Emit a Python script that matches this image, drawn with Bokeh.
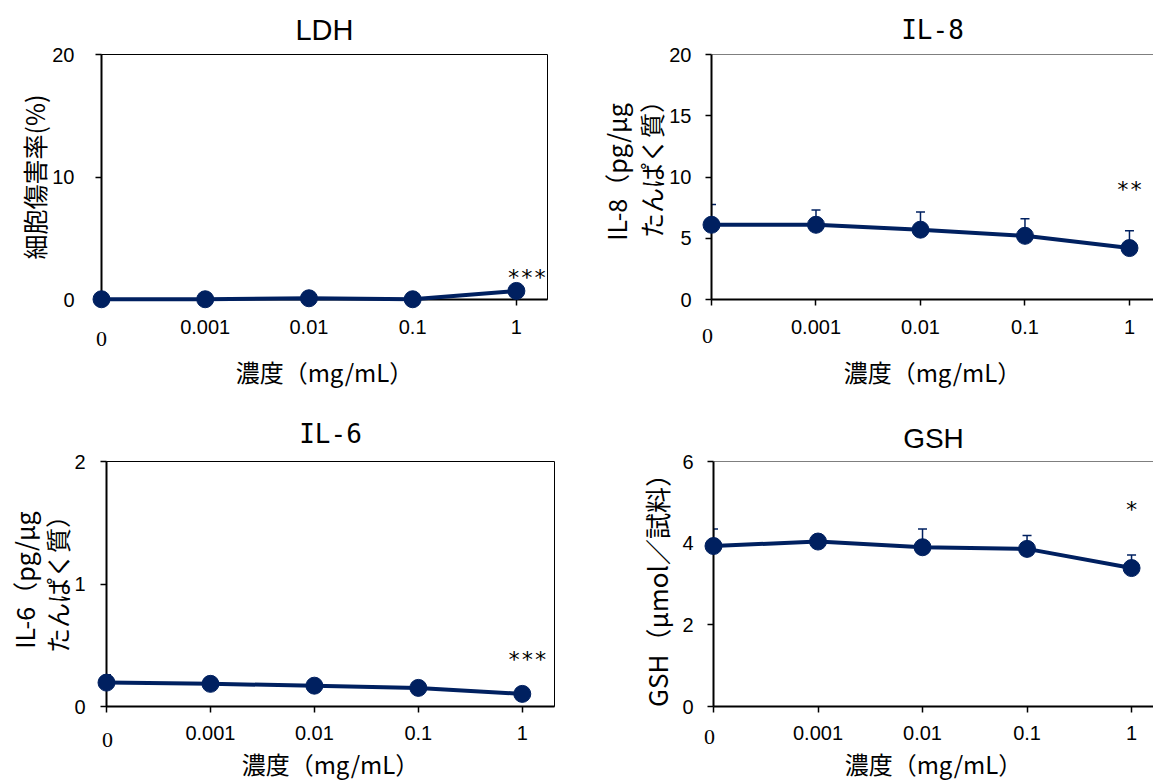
import math
from bokeh.plotting import figure
from bokeh.layouts import column, row
from bokeh.models import Range1d, FixedTicker, Whisker, ColumnDataSource, TeeHead, Span
from bokeh.core.properties import value
from bokeh.embed import file_html
from bokeh.resources import INLINE

# ---------------- data ----------------
concentrations = ["0", "0.001", "0.01", "0.1", "1"]

ldh_mean = [0.02, 0.02, 0.1, 0.02, 0.7]
ldh_sd = [0.05, 0.05, 0.08, 0.05, 0.12]
il8_mean = [6.1, 6.1, 5.7, 5.2, 4.2]
il8_sd = [1.65, 1.2, 1.45, 1.4, 1.42]
il6_mean = [0.195, 0.185, 0.17, 0.152, 0.103]
il6_sd = [0.065, 0.058, 0.02, 0.015, 0.01]
gsh_mean = [3.93, 4.04, 3.90, 3.86, 3.39]
gsh_sd = [0.42, 0.06, 0.45, 0.33, 0.32]

titles = ["LDH", "IL-8", "IL-6", "GSH"]
y_labels = [["細胞傷害率(%)"],
            ["IL-8（pg/μg", "たんぱく質）"],
            ["IL-6（pg/μg", "たんぱく質）"],
            ["GSH（μmol／試料）"]]
y_ticks = [[0, 10, 20], [0, 5, 10, 15, 20], [0, 1, 2], [0, 2, 4, 6]]
significance = ["***", "**", "***", "*"]
x_label = "濃度（mg/mL）"

NAVY = "#002060"
SANS = "Liberation Sans"
JP = "Noto Sans CJK JP"
MONO = "DejaVu Sans Mono"


def panel(title, title_font, title_size, title_standoff, ylabel, ylabel_size, ylabel_standoff,
          mean, sd, yticks, sig, sig_y, sig_dx, w, h, bl, br, bt, bb, xmax,
          ytick_standoff, xtick_standoff, xlabel_standoff, boxed, zero_off, zero_dx,
          line_pos=None):
    x = list(range(len(concentrations)))
    ymax = yticks[-1]
    frame_h = h - bt - bb
    px = ymax / frame_h  # data units per pixel (vertical)
    p = figure(width=w, height=h, x_range=Range1d(0, xmax), y_range=Range1d(0, ymax),
               output_backend="svg", toolbar_location=None, title=title,
               min_border_left=bl, min_border_right=br, min_border_top=bt, min_border_bottom=bb)
    p.grid.visible = False
    p.background_fill_color = "white"
    p.border_fill_color = "white"
    if boxed:
        p.outline_line_color = "black"
        p.outline_line_width = 1
        p.outline_line_alpha = 1
    else:
        p.outline_line_color = None
        p.add_layout(Span(location=ymax, dimension="width", line_color="black", line_width=1))

    p.title.align = "center"
    p.title.text_font = title_font
    p.title.text_font_size = f"{title_size}px"
    p.title.text_font_style = "normal"
    p.title.text_color = "black"
    p.title.standoff = title_standoff

    for ax in (p.xaxis[0], p.yaxis[0]):
        ax.axis_line_color = "black"
        ax.axis_line_width = 2
        ax.major_tick_line_color = "black"
        ax.major_tick_line_width = 1.5
        ax.major_tick_out = 6
        ax.major_tick_in = 0
        ax.minor_tick_line_color = None
        ax.major_label_text_font = SANS
        ax.major_label_text_font_size = "20px"
        ax.major_label_text_color = "black"
        ax.axis_label_text_color = "black"
        ax.axis_label_text_font_style = "normal"
        ax.axis_label_text_font = JP

    xa = p.xaxis[0]
    xa.ticker = FixedTicker(ticks=x)
    xa.major_label_overrides = {i: ("" if i == 0 else c) for i, c in enumerate(concentrations)}
    xa.major_label_standoff = xtick_standoff
    xa.axis_label = x_label
    xa.axis_label_text_font_size = "24px"
    xa.axis_label_standoff = xlabel_standoff

    ya = p.yaxis[0]
    ya.ticker = FixedTicker(ticks=yticks)
    ya.major_label_standoff = ytick_standoff
    if len(ylabel) == 1:
        ya.axis_label = ylabel[0]
        ya.axis_label_text_font_size = f"{ylabel_size}px"
        ya.axis_label_standoff = ylabel_standoff
    else:
        # two-line vertical label, each line placed beside the axis
        for txt, (dx, dy) in zip(ylabel, line_pos):
            p.text(x=[0], y=[ymax / 2 + dy * px], text=[txt], angle=math.pi / 2,
                   x_offset=-dx, text_font=value(JP), text_font_size=f"{ylabel_size}px",
                   text_align="center", text_baseline="middle", text_color="black",
                   level="overlay")

    # the category "0" label, drawn in a serif face like the original
    p.text(x=[0], y=[-zero_off * px], text=[concentrations[0]], x_offset=zero_dx,
           text_font=value("Liberation Serif"), text_font_size="22px",
           text_align="center", text_baseline="middle", text_color="black", level="overlay")

    src = ColumnDataSource(dict(x=x, mean=mean, upper=[m + s for m, s in zip(mean, sd)]))
    p.add_layout(Whisker(source=src, base="x", lower="mean", upper="upper", dimension="height",
                         line_color=NAVY, line_width=1.5, lower_head=None,
                         upper_head=TeeHead(size=9, line_color=NAVY, line_width=1.5)))
    p.line("x", "mean", source=src, line_color=NAVY, line_width=4, level="overlay")
    p.scatter("x", "mean", source=src, size=17, fill_color=NAVY, line_color=NAVY, level="overlay")

    p.text(x=[x[-1] + sig_dx], y=[sig_y], text=[sig], text_font=value(MONO),
           text_font_size="22px", text_align="center", text_baseline="middle", text_color="black")
    return p


p1 = panel(titles[0], SANS, 29, 17, y_labels[0], 25, -3, ldh_mean, ldh_sd, y_ticks[0],
           significance[0], 1.79, 0.1, 580, 392, 101, 33, 54, 92, 4.30, 21, 14, 17, True, 39.5, 0)
p2 = panel(titles[1], MONO, 26, 20, y_labels[1], 25, 0, il8_mean, il8_sd, y_ticks[1],
           significance[1], 8.98, 0.0, 573, 392, 131, 0, 54, 93, 4.23, 14, 14, 17, False, 36, -4,
           line_pos=[(96, 5), (61, 14)])
p3 = panel(titles[2], MONO, 26, 25, y_labels[2], 25, 0, il6_mean, il6_sd, y_ticks[2],
           significance[2], 0.38, 0.05, 580, 391, 106, 26, 67, 76, 4.31, 15, 13, 3, True, 34, 1,
           line_pos=[(83, 4), (50, 6)])
p4 = panel(titles[3], SANS, 28, 16, y_labels[3], 26, 4, gsh_mean, gsh_sd, y_ticks[3],
           significance[3], 4.83, 0.0, 573, 391, 133, 0, 69, 76, 4.21, 14, 13, 3, False, 30.5, -4)

layout = column(row(p1, p2), row(p3, p4))
open("out.html", "w").write(file_html(layout, INLINE))
